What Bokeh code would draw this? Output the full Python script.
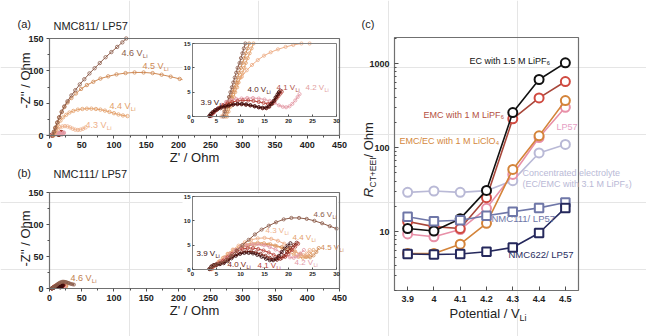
from math import log10, pi
from bokeh.plotting import figure
from bokeh.models import (Label, Range1d, FixedTicker, NumeralTickFormatter, LinearAxis,
                          LogAxis, LinearScale, LogScale)
from bokeh.embed import file_html
from bokeh.resources import INLINE

FONT = "Liberation Sans"
W, H = 646, 336

# ---------------- Panel (c) data ----------------
potential = [3.9, 4.0, 4.1, 4.2, 4.3, 4.4, 4.5]
r_ec15 = [10.9, 10.2, 14.3, 31.0, 261, 646, 1020]
r_emc = [13.2, 11.5, 10.9, 25.4, 220, 390, 611]
r_liclo4 = [5.5, 5.5, 7.1, 12.6, 55, 138, 363]
r_lp57 = [9.4, 8.7, 10.6, 19.0, 48, 132, 302]
r_conc = [29.4, 30.5, 29.4, 30.8, 40.5, 86.5, 109]
r_nmc111 = [15.1, 13.3, 13.7, 15.5, 17.3, 19.2, 22.3]
r_nmc622 = [5.43, 5.36, 5.43, 5.78, 6.5, 9.66, 19.2]
c_yticks = [10, 100, 1000]
c_yminor = [2, 3, 4, 5, 6, 7, 8, 9, 20, 30, 40, 50, 60, 70, 80, 90,
            200, 300, 400, 500, 600, 700, 800, 900, 2000]

# ---------------- Panel (a) main data ----------------
a46_x = [5, 7, 9, 12, 15, 19, 23, 28, 34, 40, 47, 54, 62, 70, 78, 87, 96, 105, 113, 119]
a46_y = [0, 6, 12, 20, 28, 37, 45, 53, 62, 70, 79, 87, 96, 104, 112, 121, 129, 137, 144, 150]
a45_x = [5, 7, 9, 12, 15, 19, 23, 28, 34, 41, 49, 58, 68, 79, 91, 104, 118, 132, 146, 160, 174, 188, 202, 216, 228]
a45_y = [0, 6, 12, 20, 28, 36, 44, 51, 58, 65, 72, 78, 83, 88, 91.5, 94.5, 96.5, 97.5, 97.5, 96.5, 94, 91, 87.5, 84, 81]
a44_x = [6, 8, 10, 13, 17, 21, 26, 31, 37, 44, 51, 58, 65, 72, 79, 86, 93, 100, 107, 114, 121]
a44_y = [0, 5, 11, 17, 23, 28, 32, 35.5, 38, 40, 41, 41.5, 41.5, 41, 40, 38.5, 36.5, 34.5, 32.5, 31, 30]
a43_x = [6, 8, 10, 13, 16, 20, 24, 28, 32, 36, 40, 44, 48, 52, 56]
a43_y = [0, 3.5, 7, 10.5, 12.5, 14, 14.5, 14, 12.5, 10.5, 9, 8.5, 9, 10.5, 12.5]
nyq_xticks = [0, 50, 100, 150, 200, 250, 300, 350, 400, 450]
nyq_xminor = [25, 75, 125, 175, 225, 275, 325, 375, 425]
nyq_yticks = [0, 50, 100, 150]
nyq_yminor = [25, 75, 125]

# ---------------- Panel (a) inset data ----------------
ia39_x = [3.5, 3.8, 4.2, 4.7, 5.3, 6.0, 6.8, 7.6, 8.5, 9.4, 10.3, 11.2, 12.1, 13.0, 13.8, 14.6, 15.3, 15.9, 16.4, 16.9, 17.3, 17.7, 18.0]
ia39_y = [0.1, 0.5, 0.9, 1.3, 1.6, 1.9, 2.1, 2.3, 2.5, 2.6, 2.6, 2.5, 2.3, 2.1, 1.9, 1.8, 1.8, 2.1, 2.6, 3.2, 3.9, 4.5, 5.0]
ia40_x = [3.6, 4.0, 4.5, 5.1, 5.8, 6.6, 7.5, 8.4, 9.3, 10.2, 11.1, 12.0, 12.9, 13.8, 14.6, 15.4, 16.0, 16.6, 17.1, 17.5, 17.9, 18.3]
ia40_y = [0.1, 0.6, 1.0, 1.4, 1.7, 2.0, 2.2, 2.4, 2.5, 2.5, 2.4, 2.3, 2.1, 1.9, 1.7, 1.7, 2.0, 2.6, 3.3, 4.0, 4.7, 5.3]
ia41_x = [3.8, 4.3, 4.9, 5.6, 6.4, 7.3, 8.3, 9.4, 10.5, 11.6, 12.7, 13.8, 14.8, 15.7, 16.4, 17.0, 17.5, 17.9, 18.3, 18.6]
ia41_y = [0.1, 0.7, 1.3, 1.8, 2.3, 2.7, 3.0, 3.2, 3.3, 3.3, 3.2, 3.0, 2.8, 2.6, 2.7, 3.1, 3.7, 4.2, 4.7, 5.1]
ia42_x = [4.0, 4.6, 5.3, 6.1, 7.0, 8.0, 9.1, 10.2, 11.4, 12.6, 13.8, 15.0, 16.1, 17.1, 18.0, 18.8, 19.5, 20.2, 20.8, 21.4, 21.9, 22.3]
ia42_y = [0.1, 0.9, 1.7, 2.4, 3.0, 3.4, 3.6, 3.7, 3.8, 3.8, 3.7, 3.5, 3.2, 2.8, 2.3, 2.0, 1.9, 2.1, 2.6, 3.3, 4.0, 4.6]
ia43_x = [6.0, 6.6, 7.2, 7.9, 8.6, 9.4, 10.3, 11.3, 12.4, 13.6, 14.9, 16.3, 17.8, 19.4, 21.0, 22.7, 24.4]
ia43_y = [0.0, 1.3, 2.7, 4.1, 5.5, 6.9, 8.2, 9.5, 10.6, 11.6, 12.5, 13.2, 13.8, 14.3, 14.7, 15.0, 15.0]
ia44_x = [7.2, 7.5, 7.9, 8.2, 8.6, 8.9, 9.3, 9.6, 10.0, 10.4, 10.8, 11.1, 11.5, 11.9, 12.3, 12.7]
ia44_y = [0.0, 1.0, 2.0, 3.0, 4.0, 5.0, 6.0, 7.0, 8.0, 9.0, 10.0, 11.0, 12.0, 13.0, 14.0, 15.0]
ia45_x = [6.8, 7.1, 7.4, 7.8, 8.1, 8.4, 8.7, 9.1, 9.4, 9.7, 10.1, 10.4, 10.8, 11.1, 11.5, 11.8]
ia45_y = [0.0, 1.0, 2.0, 3.0, 4.0, 5.0, 6.0, 7.0, 8.0, 9.0, 10.0, 11.0, 12.0, 13.0, 14.0, 15.0]
ia46_x = [6.4, 6.7, 7.0, 7.3, 7.6, 7.9, 8.2, 8.5, 8.8, 9.1, 9.4, 9.8, 10.1, 10.4, 10.7, 11.0]
ia46_y = [0.0, 1.0, 2.0, 3.0, 4.0, 5.0, 6.0, 7.0, 8.0, 9.0, 10.0, 11.0, 12.0, 13.0, 14.0, 15.0]
inset_xticks = [0, 5, 10, 15, 20, 25, 30]
inset_yticks = [0, 5, 10, 15]

# ---------------- Panel (b) data (main and inset) ----------------
b39_x = [3.5, 3.9, 4.4, 5.0, 5.7, 6.5, 7.3, 8.1, 9.0, 9.9, 10.8, 11.7, 12.6, 13.5, 14.4, 15.3, 16.1, 16.8, 17.4, 18.0, 18.6, 19.2, 19.8, 20.4]
b39_y = [0.1, 0.6, 0.9, 1.0, 1.1, 1.3, 1.7, 2.3, 2.8, 3.2, 3.4, 3.4, 3.3, 3.0, 2.6, 2.2, 1.9, 1.9, 2.2, 2.8, 3.6, 4.3, 4.9, 5.4]
b40_x = [3.6, 4.0, 4.5, 5.1, 5.8, 6.6, 7.4, 8.3, 9.2, 10.2, 11.2, 12.2, 13.2, 14.2, 15.2, 16.1, 16.9, 17.6, 18.3, 19.0, 19.7, 20.4, 21.1, 21.7]
b40_y = [0.1, 0.6, 0.9, 1.0, 1.2, 1.5, 2.0, 2.6, 3.1, 3.5, 3.7, 3.7, 3.5, 3.2, 2.8, 2.4, 2.1, 2.0, 2.2, 2.8, 3.6, 4.4, 5.0, 5.5]
b41_x = [3.8, 4.3, 4.9, 5.6, 6.4, 7.3, 8.3, 9.3, 10.4, 11.5, 12.6, 13.7, 14.8, 15.9, 16.9, 17.8, 18.6, 19.3, 20.0, 20.7, 21.4, 22.0]
b41_y = [0.1, 0.6, 1.0, 1.3, 1.8, 2.5, 3.2, 3.8, 4.2, 4.4, 4.4, 4.2, 3.9, 3.5, 3.0, 2.6, 2.4, 2.6, 3.2, 4.0, 4.7, 5.3]
b42_x = [3.9, 4.5, 5.2, 6.0, 6.9, 7.9, 9.0, 10.1, 11.3, 12.5, 13.7, 14.9, 16.1, 17.3, 18.4, 19.4, 20.3, 21.1, 21.8, 22.5, 23.2]
b42_y = [0.1, 0.7, 1.2, 1.7, 2.4, 3.2, 4.0, 4.6, 5.0, 5.2, 5.2, 5.0, 4.6, 4.1, 3.5, 2.9, 2.5, 2.4, 2.7, 3.3, 4.0]
b43_x = [4.0, 4.6, 5.4, 6.3, 7.3, 8.4, 9.6, 10.9, 12.2, 13.6, 15.0, 16.4, 17.8, 19.1, 20.3, 21.4, 22.3, 23.1, 23.8, 24.4]
b43_y = [0.1, 0.8, 1.5, 2.3, 3.2, 4.1, 4.9, 5.6, 6.1, 6.4, 6.5, 6.3, 5.9, 5.3, 4.5, 3.7, 3.1, 2.9, 3.3, 4.0]
b44_x = [4.0, 4.7, 5.5, 6.4, 7.4, 8.5, 9.7, 11.0, 12.3, 13.6, 14.9, 16.2, 17.5, 18.8, 20.0, 21.1, 22.1, 23.0, 23.8, 24.5, 25.2]
b44_y = [0.1, 0.8, 1.6, 2.4, 3.2, 4.0, 4.6, 5.1, 5.4, 5.5, 5.4, 5.2, 4.8, 4.3, 3.7, 3.1, 2.6, 2.4, 2.6, 3.2, 4.0]
b45_x = [4.1, 4.8, 5.7, 6.7, 7.8, 9.0, 10.3, 11.6, 13.0, 14.4, 15.8, 17.2, 18.6, 20.0, 21.3, 22.5, 23.6, 24.5, 25.2, 25.8, 26.3]
b45_y = [0.1, 0.9, 1.7, 2.5, 3.3, 4.0, 4.5, 4.9, 5.1, 5.2, 5.1, 4.9, 4.6, 4.2, 3.7, 3.1, 2.6, 2.5, 2.9, 3.6, 4.4]
b46_x = [3.6, 4.2, 5.0, 6.0, 7.0, 8.0, 9.2, 10.4, 11.7, 13.0, 14.4, 15.9, 17.4, 19.0, 20.6, 22.2, 23.8, 25.4, 27.0, 28.6, 30.0, 32, 34, 36, 38]
b46_y = [0.1, 0.7, 1.1, 1.4, 1.9, 2.8, 3.9, 5.0, 6.1, 7.2, 8.2, 9.0, 9.7, 10.3, 10.6, 10.6, 10.4, 10.0, 9.5, 8.9, 8.4, 7.6, 7.0, 6.5, 6.1]

# voltage colours
C39, C40, C41, C42 = "#3b0d0d", "#7d1f14", "#b8423a", "#e39aa6"
C43, C44, C45, C46 = "#eeb08a", "#e3a06a", "#cf8a55", "#8c5c4a"
FRAME = "#707070"
INK = "#222222"


class Panel:
    """A sub-plot region of the single canvas, with its own named ranges."""

    def __init__(self, name, fl, fr, ft, fb, xr, yr, ylog=False):
        self.xn, self.yn = name + "_x", name + "_y"
        self.fl, self.fr, self.ft, self.fb = fl, fr, ft, fb
        self.xr, self.yr, self.ylog = xr, yr, ylog
        self.xrange = Range1d(self.x(0), self.x(W))
        self.yrange = Range1d(self.y(H), self.y(0))

    def x(self, px):
        x0, x1 = self.xr
        return x0 + (px - self.fl) / (self.fr - self.fl) * (x1 - x0)

    def y(self, py):
        y0, y1 = self.yr
        if self.ylog:
            l0, l1 = log10(y0), log10(y1)
            return 10 ** (l0 + (self.fb - py) / (self.fb - self.ft) * (l1 - l0))
        return y0 + (self.fb - py) / (self.fb - self.ft) * (y1 - y0)

    def kw(self):
        return dict(x_range_name=self.xn, y_range_name=self.yn)

    def inside(self, xs, ys):
        """keep only the measured points that fall in this panel's axis window"""
        pts = [(a, b) for a, b in zip(xs, ys)
               if self.xr[0] <= a <= self.xr[1] and self.yr[0] <= b <= self.yr[1]]
        return [a for a, _ in pts], [b for _, b in pts]


PA = Panel("a", 49, 339, 38, 135, (0, 450), (0, 150))
PIA = Panel("ia", 192, 336, 43, 116, (0, 30), (0, 15))
PB = Panel("b", 49, 339, 192, 288, (0, 450), (0, 150))
PIB = Panel("ib", 192, 336, 196, 269, (0, 30), (0, 15))
PC = Panel("c", 394, 578, 37, 290, (3.85, 4.55), (2, 2040), ylog=True)
panels = [PA, PIA, PB, PIB, PC]

p = figure(width=W, height=H, x_range=Range1d(0, 1), y_range=Range1d(0, 1),
           x_axis_location=None, y_axis_location=None, min_border=0,
           output_backend="svg", toolbar_location=None)
p.outline_line_color = None
p.background_fill_color = "white"
p.border_fill_color = "white"
p.extra_x_ranges = {q.xn: q.xrange for q in panels}
p.extra_y_ranges = {q.yn: q.yrange for q in panels}
p.extra_x_scales = {q.xn: LinearScale() for q in panels}
p.extra_y_scales = {q.yn: (LogScale() if q.ylog else LinearScale()) for q in panels}


def axes(q, xticks, xminor, yticks, yminor, size, tick_in, tick_out, minor_len, standoff,
         ylog=False):
    xa = LinearAxis(x_range_name=q.xn, y_range_name=q.yn, fixed_location=q.yr[0],
                    bounds=q.xr, ticker=FixedTicker(ticks=xticks, minor_ticks=xminor))
    if ylog:
        ya = LogAxis(x_range_name=q.xn, y_range_name=q.yn, fixed_location=q.xr[0],
                     bounds=q.yr, ticker=FixedTicker(ticks=yticks, minor_ticks=yminor),
                     formatter=NumeralTickFormatter(format="0"))
    else:
        ya = LinearAxis(x_range_name=q.xn, y_range_name=q.yn, fixed_location=q.xr[0],
                        bounds=q.yr, ticker=FixedTicker(ticks=yticks, minor_ticks=yminor))
    for ax in (xa, ya):
        ax.axis_line_color = None
        ax.major_tick_line_color = "#505050"
        ax.minor_tick_line_color = "#505050"
        ax.major_label_text_font = FONT
        ax.major_label_text_font_size = f"{size}px"
        ax.major_label_text_font_style = "bold"
        ax.major_label_text_color = INK
        ax.major_tick_in = tick_in
        ax.major_tick_out = tick_out
        ax.minor_tick_in = minor_len if tick_in else 0
        ax.minor_tick_out = minor_len if tick_out else 0
        ax.major_label_standoff = standoff
    p.add_layout(xa, "below")
    p.add_layout(ya, "left")


def box(q, fill=None, pad=None, color=FRAME, width=1.2):
    if pad is None:
        l, r, b, t = q.xr[0], q.xr[1], q.yr[0], q.yr[1]
        p.quad(left=l, right=r, bottom=b, top=t, fill_color=fill, line_color=color,
               line_width=width, **q.kw())
    else:
        # white cover behind an inset (frame plus its tick-label margin)
        pl, pr, pt, pb = pad
        p.quad(left=q.x(pl), right=q.x(pr), bottom=q.y(pb), top=q.y(pt), fill_color=fill,
               line_color=None, **q.kw())


def lab(q, px, py, text, size, color, align="left", angle=0.0, style="normal"):
    p.add_layout(Label(x=q.x(px), y=q.y(py), text=text, text_font=FONT,
                       text_font_size=f"{size:.1f}px", text_color=color, text_align=align,
                       text_baseline="middle", angle=angle, text_font_style=style, **q.kw()))


def vlab(q, px, py, volt, color, size):
    lab(q, px, py, f"{volt} V", size, color)
    lab(q, px + size * 2.36, py + size * 0.32, "Li", size * 0.68, color)


def nyq(q, xs, ys, color, size=3.4):
    xs, ys = q.inside(xs, ys)
    p.line(xs, ys, line_color=color, line_width=1, **q.kw())
    p.scatter(xs, ys, marker="circle", size=size, fill_color=None, line_color=color,
              line_width=0.8, **q.kw())


# ================= Panel (a) =================
for xs, ys, c in [(ia39_x, ia39_y, C39), (ia40_x, ia40_y, C40), (ia41_x, ia41_y, C41),
                  (ia42_x, ia42_y, C42), (a43_x, a43_y, C43), (a44_x, a44_y, C44),
                  (a45_x, a45_y, C45), (a46_x, a46_y, C46)]:
    nyq(PA, xs, ys, c, 3.4)
box(PA)
axes(PA, nyq_xticks, nyq_xminor, nyq_yticks, nyq_yminor, 9, 0, 3, 2, 3)
lab(PA, 17, 23, "(a)", 11, INK)
lab(PA, 53, 25, "NMC811/ LP57", 11, INK)
lab(PA, 194, 157, "Z' / Ohm", 13, INK, align="center")
lab(PA, 25, 80, "-Z'' / Ohm", 13, INK, align="center", angle=pi / 2)
vlab(PA, 121, 52, "4.6", C46, 9)
vlab(PA, 142, 65, "4.5", C45, 9)
vlab(PA, 109, 105, "4.4", C44, 9)
vlab(PA, 85, 124, "4.3", C43, 9)

# inset (a)
box(PIA, fill="white", pad=(182, 337.4, 40, 127))
for xs, ys, c in [(ia43_x, ia43_y, C43), (ia44_x, ia44_y, C44), (ia45_x, ia45_y, C45),
                  (ia46_x, ia46_y, C46), (ia42_x, ia42_y, C42), (ia41_x, ia41_y, C41),
                  (ia40_x, ia40_y, C40), (ia39_x, ia39_y, C39)]:
    nyq(PIA, xs, ys, c, 3.2)
box(PIA, color="#808080", width=1)
axes(PIA, inset_xticks, [], inset_yticks, [], 6, 2, 0, 0, 2)
vlab(PIA, 200, 102, "3.9", C39, 8)
vlab(PIA, 247, 89, "4.0", "#5a2a22", 8)
vlab(PIA, 276, 87, "4.1", "#b0524a", 8)
vlab(PIA, 305, 87, "4.2", "#e2a0a0", 8)

# ================= Panel (b) =================
b_series = [(b45_x, b45_y, C45), (b44_x, b44_y, C44), (b43_x, b43_y, C43), (b42_x, b42_y, C42),
            (b41_x, b41_y, C41), (b40_x, b40_y, C40), (b39_x, b39_y, C39), (b46_x, b46_y, C46)]
for xs, ys, c in b_series:
    nyq(PB, xs, ys, c, 3.0)
box(PB)
axes(PB, nyq_xticks, nyq_xminor, nyq_yticks, nyq_yminor, 9, 0, 3, 2, 3)
lab(PB, 17, 172, "(b)", 11, INK)
lab(PB, 53, 173, "NMC111/ LP57", 11, INK)
lab(PB, 194, 310, "Z' / Ohm", 13, INK, align="center")
lab(PB, 25, 238, "-Z'' / Ohm", 13, INK, align="center", angle=pi / 2)
vlab(PB, 70, 277, "4.6", "#c0804f", 9)

# inset (b)
box(PIB, fill="white", pad=(182, 337.4, 193, 280))
for xs, ys, c in b_series:
    nyq(PIB, xs, ys, c, 3.2)
box(PIB, color="#808080", width=1)
axes(PIB, inset_xticks, [], inset_yticks, [], 6, 2, 0, 0, 2)
vlab(PIB, 313, 214, "4.6", C46, 8)
vlab(PIB, 265, 230, "4.3", C43, 8)
vlab(PIB, 292, 237, "4.4", C44, 8)
vlab(PIB, 320, 247, "4.5", C45, 8)
vlab(PIB, 196, 253, "3.9", C39, 8)
vlab(PIB, 227, 264, "4.0", C40, 8)
vlab(PIB, 257, 265, "4.1", C41, 8)
vlab(PIB, 294, 262, "4.2", C42, 8)

# ================= Panel (c) =================
c_series = [
    (r_conc, "#b9b9d6", "#b9b9d6", "circle"),
    (r_lp57, "#e890a8", "#e890a8", "circle"),
    (r_liclo4, "#d4843a", "#d4843a", "circle"),
    (r_emc, "#a8473a", "#d04a40", "circle"),
    (r_ec15, "#111111", "#111111", "circle"),
    (r_nmc111, "#6f77a8", "#6f77a8", "square"),
    (r_nmc622, "#25285c", "#25285c", "square"),
]
for ys, lc, mcol, mk in c_series:
    p.line(potential, ys, line_color=lc, line_width=1.6, **PC.kw())
    p.scatter(potential, ys, marker=mk, size=9 if mk == "circle" else 8.5,
              fill_color="white", line_color=mcol, line_width=2, **PC.kw())
box(PC)
axes(PC, potential, [], c_yticks, c_yminor, 9, 4, 0, 2, 5, ylog=True)

lab(PC, 361, 23, "(c)", 11, INK)
lab(PC, 469, 60, "EC with 1.5 M LiPF\u2086", 9, "#111111")
lab(PC, 423, 114, "EMC with 1 M LiPF\u2086", 9, "#b4503e")
lab(PC, 399, 140, "EMC/EC with 1 M LiClO\u2084", 9, "#d4883c")
lab(PC, 556, 126, "LP57", 9, "#e6a0c4")
lab(PC, 522, 172, "Concentrated electrolyte", 9, "#b9b9d6")
lab(PC, 522, 183, "(EC/EMC with 3.1 M LiPF\u2086)", 9, "#b9b9d6")
lab(PC, 491, 218, "NMC111/ LP57", 9.5, "#6f77a8")
lab(PC, 508, 254, "NMC622/ LP57", 9.5, "#2b2e62")
# axis titles of (c)
lab(PC, 449, 313, "Potential / V", 13, INK)
lab(PC, 449 + 13 * 5.39, 317, "Li", 9, INK)
lab(PC, 368, 197, "R", 13.5, INK, angle=pi / 2, style="italic")
lab(PC, 372, 187, "CT+EEI", 8.5, INK, angle=pi / 2)
lab(PC, 368, 157, "/ Ohm", 13, INK, angle=pi / 2)

open("out.html", "w").write(file_html(p, INLINE))
